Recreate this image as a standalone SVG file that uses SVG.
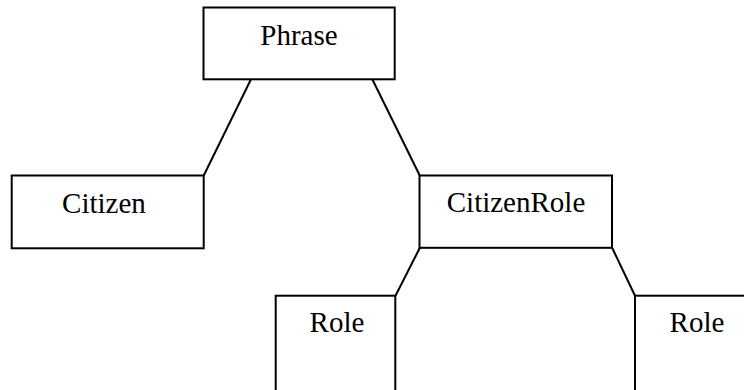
<svg xmlns="http://www.w3.org/2000/svg" width="744" height="390" viewBox="0 0 744 390">
<style>
.box{fill:#fff;stroke:#000;stroke-width:2}
.lbl{font-family:"Liberation Serif","Times New Roman",serif;font-size:29px;fill:#000;text-anchor:middle}
.edge{fill:none;stroke:#000;stroke-width:2}
</style>
<rect width="744" height="390" fill="#fff"/>
<g id="connectors">
<line class="edge" x1="251" y1="79.3" x2="203.5" y2="176"/>
<line class="edge" x1="372.3" y1="79.3" x2="420" y2="176"/>
<line class="edge" x1="420" y1="247.5" x2="395.5" y2="295.7"/>
<line class="edge" x1="612" y1="247.5" x2="635" y2="295.7"/>
</g>
<g id="phrase">
<rect class="box" x="203.5" y="7.5" width="191.2" height="71.8"/>
<text class="lbl" x="299" y="45">Phrase</text>
</g>
<g id="citizen">
<rect class="box" x="11.7" y="175.5" width="192" height="72.8"/>
<text class="lbl" x="104" y="213">Citizen</text>
</g>
<g id="citizenrole">
<rect class="box" x="419.5" y="175.5" width="192.5" height="72.3"/>
<text class="lbl" x="516" y="211.5">CitizenRole</text>
</g>
<g id="role1">
<rect class="box" x="275.7" y="295.7" width="119.6" height="110"/>
<text class="lbl" x="337" y="331.5">Role</text>
</g>
<g id="role2">
<rect class="box" x="635" y="295.7" width="120" height="110"/>
<text class="lbl" x="697" y="331.5">Role</text>
</g>
</svg>
